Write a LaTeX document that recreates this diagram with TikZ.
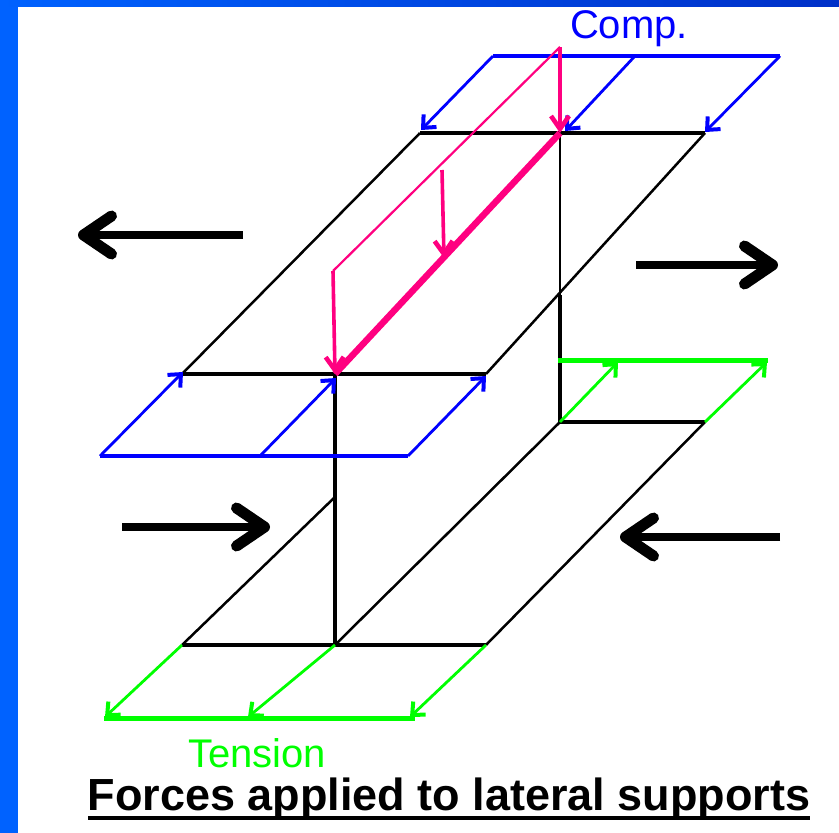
\documentclass[tikz,border=0pt]{standalone}
\usepackage{fontspec}
\setmainfont{Liberation Sans}
\usetikzlibrary{arrows.meta}
\definecolor{framec}{RGB}{0,98,255}
\definecolor{framedark}{RGB}{0,48,200}
\definecolor{compc}{RGB}{0,0,255}
\definecolor{tensc}{RGB}{0,255,0}
\definecolor{loadc}{RGB}{255,0,128}

\begin{document}
\begin{tikzpicture}[x=1pt,y=-1pt,
  edge/.style={black,line width=2.5pt},
  flange/.style={black,line width=4.5pt},
  lab/.style={font=\fontsize{40}{40}\selectfont,inner sep=0pt,anchor=base},
  comptip/.style={compc,line width=2.8pt,-{Straight Barb[length=10pt,width=18pt,line width=4pt]}},
  tenstip/.style={tensc,line width=2.8pt,-{Straight Barb[length=10pt,width=18pt,line width=4pt]}},
  loadtip/.style={loadc,line width=3.6pt,-{Straight Barb[length=13pt,width=18pt,line width=4.6pt]}},
  force/.style={black,line width=7.5pt,-{Straight Barb[length=28pt,width=38pt,line width=11pt,round]}}]
\useasboundingbox (0,0) rectangle (839,833);
\fill[white] (0,0) rectangle (839,833);
\fill[framec] (0,0) rectangle (18,833);
\shade[left color=framec,right color=framedark] (0,0) rectangle (839,6);
% upper flange
\coordinate (ua) at (420,133);
\coordinate (ub) at (560,133);
\coordinate (uc) at (705,133);
\coordinate (ud) at (182,374);
\coordinate (ue) at (335,374);
\coordinate (uf) at (486,374);
% lower flange
\coordinate (la) at (560,422);
\coordinate (lb) at (705,422);
\coordinate (lc) at (182,645);
\coordinate (ld) at (335,645);
\coordinate (le) at (486,645);
\coordinate (wa) at (560,295);
\coordinate (wb) at (335,497);
\draw[edge] (ua)--(ud);
\draw[edge] (uc)--(uf);
\draw[edge] (la)--(ld);
\draw[edge] (lb)--(le);
\draw[edge] (wb)--(lc);
\draw[edge] (ub)--(wa);
\draw[flange] (wa)--(la);
\draw[flange] (ue)--(ld);
\foreach \a/\b in {ua/uc,ud/uf,la/lb,lc/le} {
  \draw[flange] (\a)--(\b);
}
% compression on upper flange
\coordinate (ca) at (493,56);
\coordinate (cb) at (635,56);
\coordinate (cc) at (780,56);
\coordinate (cd) at (100,456);
\coordinate (ce) at (260,456);
\coordinate (cf) at (408,456);
\draw[compc,line width=3.5pt] (ca)--(cc);
\draw[compc,line width=3.5pt] (cd)--(cf);
\coordinate (ct1) at (421,130);
\coordinate (ct2) at (565,131);
\coordinate (ct3) at (705,132);
\coordinate (ct4) at (183,372);
\coordinate (ct5) at (336,378);
\coordinate (ct6) at (486,376);
\foreach \a/\b in {ca/ct1,cb/ct2,cc/ct3,cd/ct4,ce/ct5,cf/ct6} {
  \draw[comptip] (\a)--(\b);
}
% tension on lower flange
\coordinate (ta) at (558,360);
\coordinate (tb) at (768,360);
\coordinate (tc) at (104,718);
\coordinate (td) at (415,718);
\draw[tensc,line width=5pt] (ta)--(tb);
\draw[tensc,line width=5pt] (tc)--(td);
\coordinate (tt1) at (618,362);
\coordinate (tt2) at (767,362);
\coordinate (tt3) at (105,717);
\coordinate (tt4) at (248,717);
\coordinate (tt5) at (410,717);
\foreach \a/\b in {la/tt1,lb/tt2,lc/tt3,ld/tt4,le/tt5} {
  \draw[tenstip] (\a)--(\b);
}
% load on the web
\coordinate (pa) at (560,47);
\coordinate (pb) at (442,170);
\coordinate (pc) at (333,271);
\coordinate (pt) at (444,258);
\draw[loadc,line width=2.2pt] (pa)--(pc);
\draw[loadc,line width=6.5pt] (ub)--(ue);
\draw[loadtip] (pa)--(ub);
\draw[loadtip] (pb)--(pt);
\draw[loadtip] (pc)--(ue);
% lateral forces
\coordinate (fa) at (243,235);
\coordinate (fb) at (78,235);
\coordinate (fc) at (636,265);
\coordinate (fd) at (778,265);
\coordinate (fe) at (122,527);
\coordinate (ff) at (270,527);
\coordinate (fg) at (780,537);
\coordinate (fh) at (620,537);
\foreach \a/\b in {fa/fb,fc/fd,fe/ff,fg/fh} {
  \draw[force] (\a)--(\b);
}
\node[lab,text=compc] (comp) at (629,38) {Comp.};
\node[lab,text=tensc] (tens) at (257,767) {Tension};
\node[lab,font=\fontsize{45}{45}\selectfont\bfseries] (title) at (449,810) {Forces applied to lateral supports};
\coordinate (ula) at (88,818);
\coordinate (ulb) at (810,818);
\draw[black,line width=4.5pt] (ula)--(ulb);
\end{tikzpicture}
\end{document}
